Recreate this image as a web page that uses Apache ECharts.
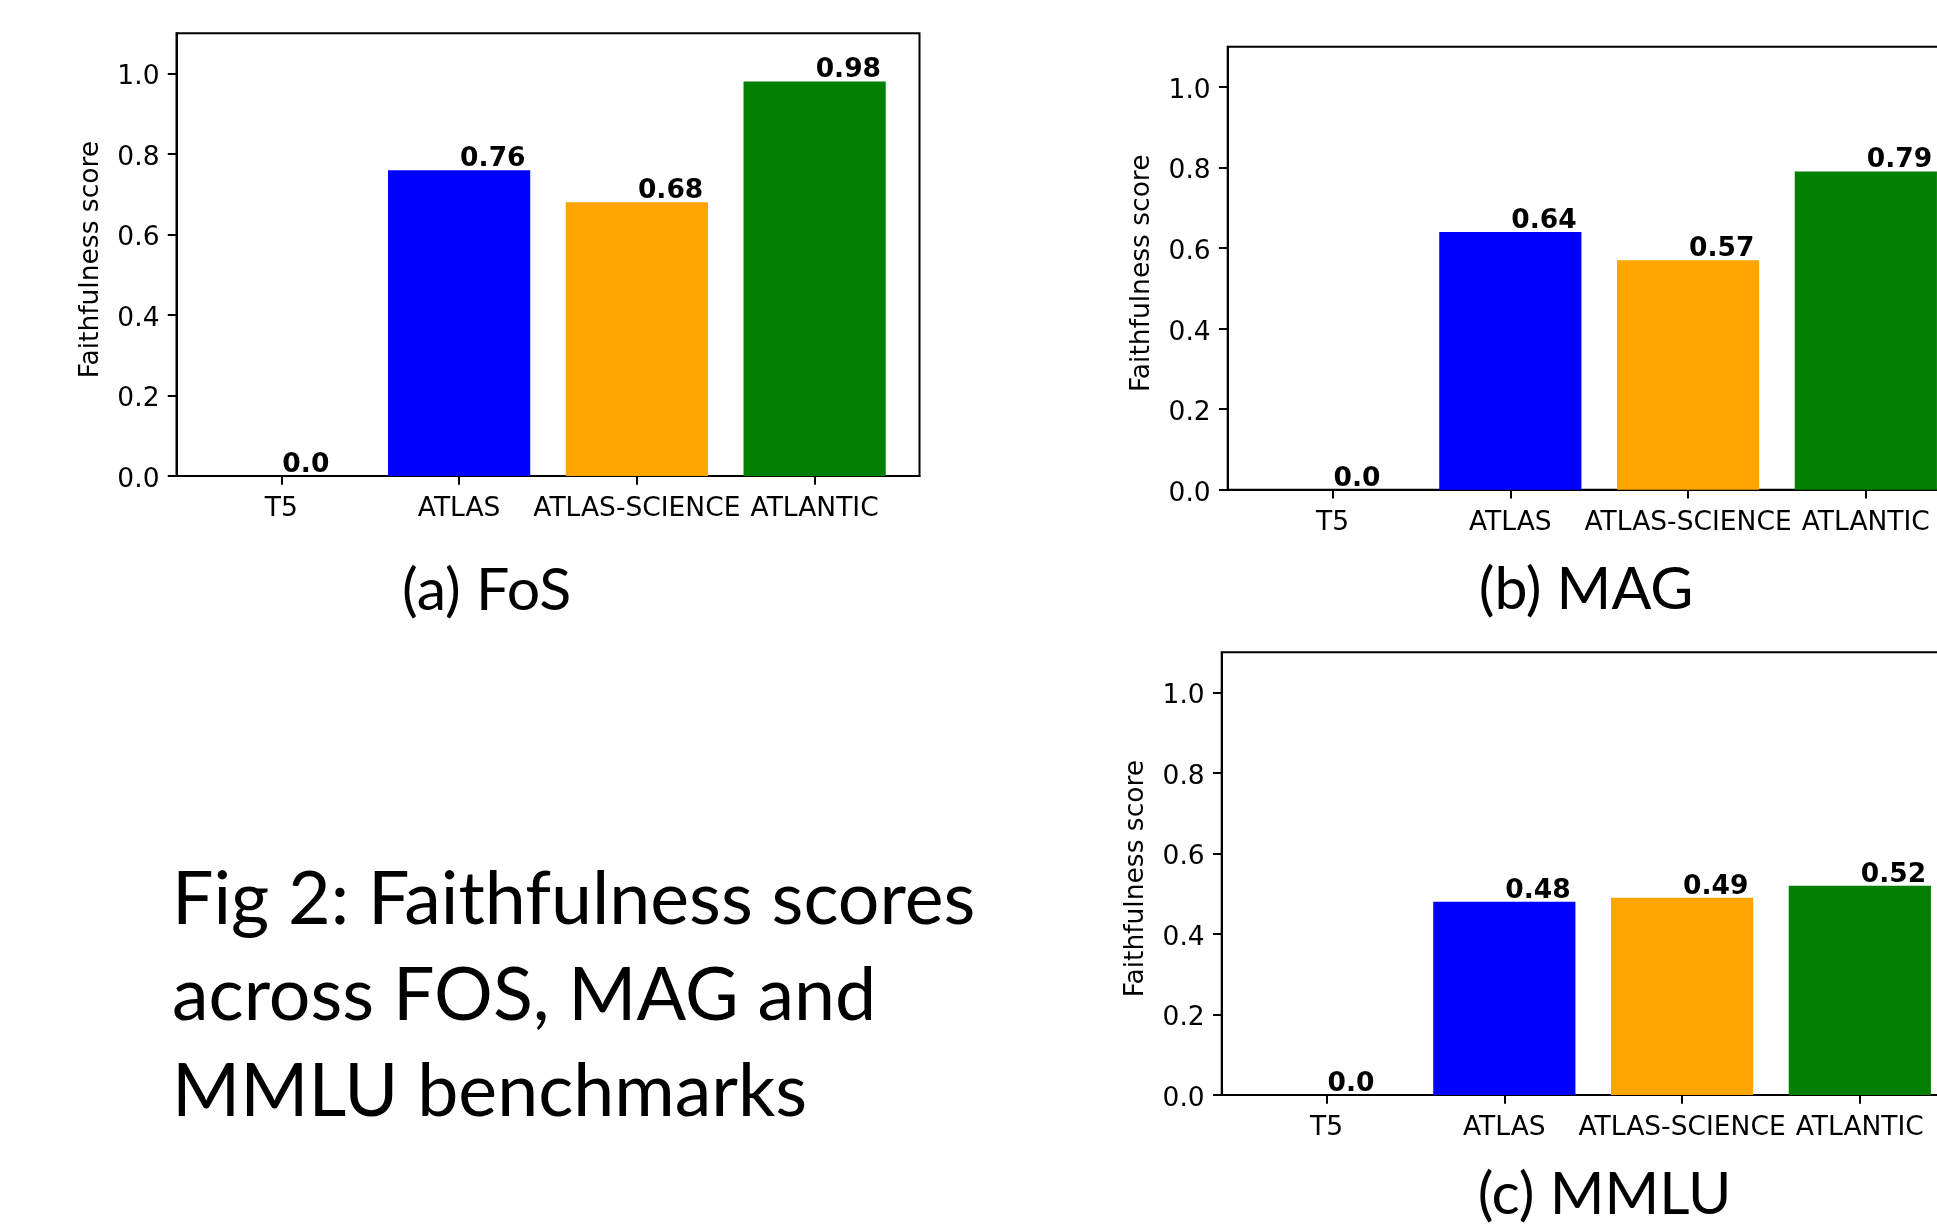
<!DOCTYPE html>
<html>
<head>
<meta charset="utf-8">
<script src="https://cdn.jsdelivr.net/npm/echarts@6/dist/echarts.min.js"></script>
<style>
  html, body { margin: 0; padding: 0; background: #fff; overflow: hidden; }
  #chart { width: 2000px; height: 1224px; }
</style>
</head>
<body>
<div id="chart"></div>
<script>
// ---- data ----
const categories = ['T5', 'ATLAS', 'ATLAS-SCIENCE', 'ATLANTIC'];
const barColors = ['#ff0000', '#0000ff', '#ffa500', '#008000'];
const fosScores = [0.0, 0.76, 0.68, 0.98];
const magScores = [0.0, 0.64, 0.57, 0.79];
const mmluScores = [0.0, 0.48, 0.49, 0.52];
const yTicks = [0, 0.2, 0.4, 0.6, 0.8, 1.0];
const xTicks = [0, 1, 2, 3];
const panelCaptions = ['(a) FoS', '(b) MAG', '(c) MMLU'];
const figureCaption = ['Fig 2: Faithfulness scores', 'across FOS, MAG and', 'MMLU benchmarks'];
const yAxisTitle = 'Faithfulness score';

// ---- layout ----
const panels = [
  { scores: fosScores,  grid: { left: 176.5,  top: 33.3,  width: 743, height: 442.7 } },
  { scores: magScores,  grid: { left: 1227.7, top: 46.7,  width: 743, height: 443.1 } },
  { scores: mmluScores, grid: { left: 1221.7, top: 652.3, width: 743, height: 442.7 } }
];

const FS = 26.5;
const tickFont = { fontFamily: 'DejaVu Sans', fontSize: FS, color: '#000' };

const grids = [], xAxes = [], yAxes = [], series = [];
panels.forEach((p, i) => {
  grids.push(Object.assign({
    show: true, borderColor: '#000', borderWidth: 2, backgroundColor: 'transparent',
    outerBoundsMode: 'none', containLabel: false
  }, p.grid));
  xAxes.push({
    type: 'value', gridIndex: i, min: -0.59, max: 3.59,
    splitLine: { show: false },
    axisLine: { show: true, onZero: false, lineStyle: { color: '#000', width: 2 } },
    axisTick: { show: true, length: 8.75, lineStyle: { color: '#000', width: 2 }, customValues: xTicks },
    axisLabel: Object.assign({ margin: 20, customValues: xTicks,
      formatter: v => categories[Math.round(v)] }, tickFont)
  });
  yAxes.push({
    type: 'value', gridIndex: i, min: 0, max: 1.1,
    splitLine: { show: false },
    axisLine: { show: true, onZero: false, lineStyle: { color: '#000', width: 2 } },
    axisTick: { show: true, length: 8.75, lineStyle: { color: '#000', width: 2 }, customValues: yTicks },
    axisLabel: Object.assign({ margin: 17, customValues: yTicks,
      verticalAlign: 'top', lineHeight: 8,
      formatter: v => v.toFixed(1) }, tickFont),
    name: yAxisTitle, nameLocation: 'middle', nameRotate: 90, nameGap: 72,
    nameTextStyle: { fontFamily: 'DejaVu Sans', fontSize: FS, color: '#000', padding: [0, 10, 0, 0] }
  });
  series.push({
    type: 'bar', xAxisIndex: i, yAxisIndex: i,
    barWidth: '80%',
    data: p.scores.map((v, k) => [xTicks[k], v]),
    itemStyle: { color: params => barColors[params.dataIndex] },
    label: {
      show: true, position: ['50%', 0], align: 'left', verticalAlign: 'bottom',
      offset: [1, 2.5],
      fontFamily: 'DejaVu Sans', fontWeight: 'bold', fontSize: FS, color: '#000',
      formatter: params => {
        const v = params.value[1];
        return Number.isInteger(v) ? v.toFixed(1) : String(v);
      }
    },
    emphasis: { disabled: true },
    animation: false
  });
});

const captionFont = 'Lato';
const graphics = [
  { type: 'text', x: 486.7, y: 609.3 - 18, style: { text: panelCaptions[0], font: '59px ' + captionFont, fill: '#000', align: 'center', verticalAlign: 'middle' } },
  { type: 'text', x: 1586,  y: 608 - 18,   style: { text: panelCaptions[1], font: '59px ' + captionFont, fill: '#000', align: 'center', verticalAlign: 'middle' } },
  { type: 'text', x: 1604.5, y: 1213 - 18, style: { text: panelCaptions[2], font: '59px ' + captionFont, fill: '#000', align: 'center', verticalAlign: 'middle' } }
];
figureCaption.forEach((line, k) => {
  graphics.push({ type: 'text', x: 172, y: 925.7 + k * 96 - 25,
    style: { text: line, font: '73.5px ' + captionFont, fill: '#000', align: 'left', verticalAlign: 'middle' } });
});

const chart = echarts.init(document.getElementById('chart'), null, { renderer: 'canvas' });
chart.setOption({
  animation: false,
  backgroundColor: '#fff',
  grid: grids,
  xAxis: xAxes,
  yAxis: yAxes,
  series: series,
  graphic: graphics
});
</script>
</body>
</html>
